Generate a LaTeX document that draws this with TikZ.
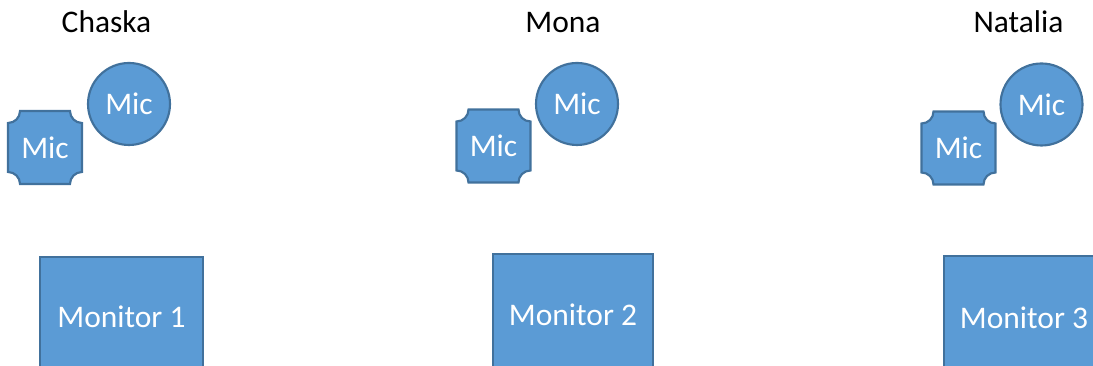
\documentclass[tikz,border=0pt]{standalone}
\usepackage{fontspec}
\setmainfont{Carlito}
\definecolor{micfill}{HTML}{5B9BD5}
\definecolor{micline}{HTML}{41719C}
\begin{document}
\begin{tikzpicture}[x=0.75pt,y=0.75pt,
  fillbox/.style={fill=micfill,draw=micline,line width=1.6pt},
  txt/.style={font=\fontsize{23.6}{28}\selectfont},
  wtxt/.style={txt,text=white,inner sep=0pt},
  circmic/.style={fillbox,circle,minimum size=61.5pt,inner sep=0pt,wtxt},
  monitor/.style={fillbox,rectangle,inner sep=0pt,wtxt},
  person/.style={txt,anchor=base,text=black,inner sep=0pt},
  plaque/.pic={\path[fillbox] (-25,36.5) -- (25,36.5)
     arc[start angle=180,end angle=270,radius=9pt] -- (37,-24.5)
     arc[start angle=90,end angle=180,radius=9pt] -- (-25,-36.5)
     arc[start angle=0,end angle=90,radius=9pt] -- (-37,24.5)
     arc[start angle=270,end angle=360,radius=9pt] -- cycle;}
]
\useasboundingbox (0,0) rectangle (1093,366);
\clip (0,0) rectangle (1093,366);

% Chaska
\node[person] (p1) at (106.5,333) {Chaska};
\node[circmic] (c1) at (129,262) {Mic};
\pic (q1) at (45,218.5) {plaque};
\node[wtxt] (m1) at (45,218.5) {Mic};
\node[monitor,minimum width=122.25pt,minimum height=90pt] (mon1) at (121.5,49) {Monitor 1};

% Mona
\node[person] (p2) at (563,333) {Mona};
\node[circmic] (c2) at (577,262) {Mic};
\pic (q2) at (493.5,220) {plaque};
\node[wtxt] (m2) at (493.5,220) {Mic};
\node[monitor,minimum width=120pt,minimum height=91.5pt] (mon2) at (573,51) {Monitor 2};

% Natalia
\node[person] (p3) at (1018.5,333) {Natalia};
\node[circmic] (c3) at (1041.5,261.5) {Mic};
\pic (q3) at (958.5,218) {plaque};
\node[wtxt] (m3) at (958.5,218) {Mic};
\node[monitor,minimum width=120pt,minimum height=93pt] (mon3) at (1024,48) {Monitor 3};
\end{tikzpicture}
\end{document}
